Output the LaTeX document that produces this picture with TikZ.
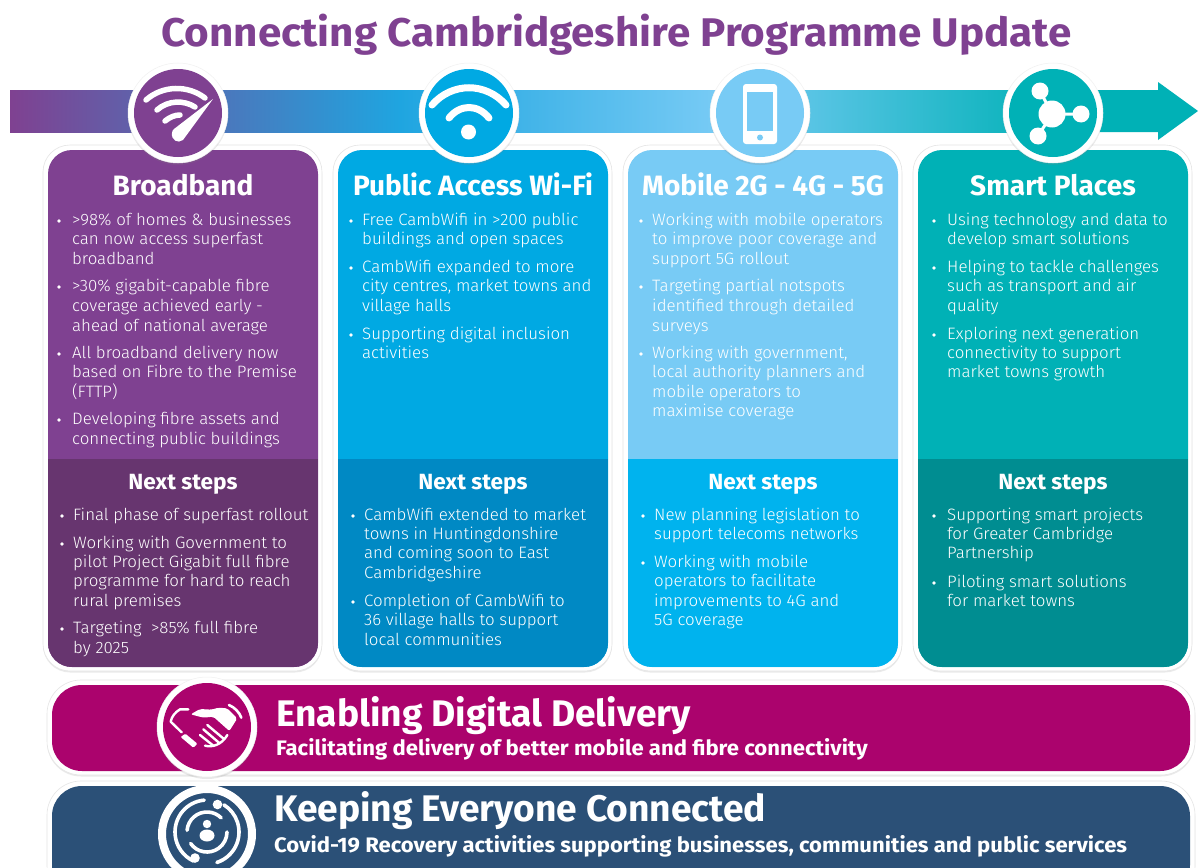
\documentclass[tikz,border=0pt]{standalone}
\usepackage{fontspec}
\setmainfont{Fira Sans}
\newfontfamily\bodyf[FakeStretch=1.022]{Fira Sans Light}
\newfontfamily\titlef[FakeStretch=1.055]{Fira Sans Bold}
\newfontfamily\headf[FakeStretch=1.0]{Fira Sans Bold}
\newfontfamily\nextf[FakeStretch=1.03]{Fira Sans Bold}
\newfontfamily\bigf[FakeStretch=1.005]{Fira Sans Bold}
\newfontfamily\subf[FakeStretch=1.052]{Fira Sans Bold}
\usetikzlibrary{shadows}
\definecolor{cPur}{HTML}{7F4191}\definecolor{cPurD}{HTML}{67356F}
\definecolor{cBlu}{HTML}{00A9E3}\definecolor{cBluD}{HTML}{0089C4}
\definecolor{cLgt}{HTML}{78CBF5}\definecolor{cLgtD}{HTML}{00B3EE}
\definecolor{cTea}{HTML}{00B1B6}\definecolor{cTeaD}{HTML}{008D91}
\definecolor{cMag}{HTML}{AB036D}\definecolor{cNav}{HTML}{2B5077}
\definecolor{cMid}{HTML}{1FA5E0}
\newcount\tcnt
\newcommand{\tl}[3]{\global\advance\tcnt by 1 \node[bodytxt] (t\the\tcnt) at (#1,#2+5.5) {#3};}
\newcommand{\bl}[2]{\fill[white] (#1,#2) circle[radius=1.9];}
\newcommand{\card}[5]{%
  \draw[cardedge,rounded corners=27] (#1-5,145) rectangle (#1+274,671);
  \fill[#2,rounded corners=24] (#1,150) rectangle (#1+270,667);
  \begin{scope}
    \clip[rounded corners=24] (#1,150) rectangle (#1+270,667);
    \fill[#3] (#1,459) rectangle (#1+270,667);
  \end{scope}
  \node[headtxt] (h#5) at (#1+135,195) {#4};
  \node[nexttxt] (n#5) at (#1+135,489) {Next steps};
}
\newcommand{\badge}[3]{\draw[badgeedge] (#1,#2) circle[radius=50]; \fill[#3] (#1,#2) circle[radius=44];}
\tikzset{
  cardedge/.style={fill=white,draw=black!10,line width=.6pt,drop shadow={opacity=.16,shadow xshift=0pt,shadow yshift=-1.5pt}},
  badgeedge/.style={fill=white,draw=black!6,line width=.5pt,drop shadow={opacity=.18,shadow xshift=0pt,shadow yshift=-2pt}},
  bodytxt/.style={anchor=base west,inner sep=0,text=white,font=\bodyf\fontsize{16.5}{19}\selectfont},
  headtxt/.style={anchor=base,inner sep=0,text=white,font=\headf\fontsize{28}{32}\selectfont},
  nexttxt/.style={anchor=base,inner sep=0,text=white,font=\nextf\fontsize{22}{26}\selectfont},
  bartxt/.style={anchor=base west,inner sep=0,text=white,font=\bigf\fontsize{37}{42}\selectfont},
  subtxt/.style={anchor=base west,inner sep=0,text=white,font=\subf\fontsize{21}{25}\selectfont},
  wline/.style={draw=white,line cap=round,line width=#1,fill=none},
  wline/.default=6pt,
}
\begin{document}
\begin{tikzpicture}[x=1pt,y=-1pt]
\useasboundingbox (0,0) rectangle (1198,867);
\clip (0,0) rectangle (1198,867);
\fill[white] (0,0) rectangle (1198,867);
% title
\node[inner sep=0,anchor=base,text=cPur] (title) at (616.5,47) {\titlef\fontsize{40}{46}\selectfont Connecting Cambridgeshire Programme Update};
% arrow band
\shade[left color=cPur,right color=cMid] (10,90) rectangle (400,132);
\shade[left color=cMid,right color=cLgt] (399.5,90) rectangle (720,132);
\shade[left color=cLgt,right color=cTea] (719.5,90) rectangle (1060,132);
\fill[cTea] (1059,90) -- (1158,90) -- (1158,82) -- (1198,111) -- (1158,140) -- (1158,132) -- (1059,132) -- cycle;
% cards
\card{48}{cPur}{cPurD}{Broadband}{bb}
\card{338}{cBlu}{cBluD}{Public Access Wi-Fi}{wf}
\card{628}{cLgt}{cLgtD}{Mobile 2G - 4G - 5G}{mb}
\card{918}{cTea}{cTeaD}{Smart Places}{sp}
% badges
\badge{178}{113}{cPur}
\badge{469}{113}{cBlu}
\badge{760}{113}{cLgt}
\badge{1053}{113}{cTea}
% icon: speed wifi
\draw[wline=5.5pt] (146,100) .. controls (163,85) and (188,85) .. (205,98);
\draw[wline=5.5pt] (157,110) .. controls (168,100) and (184,100) .. (195,107);
\draw[wline=5.5pt] (165,121) .. controls (170,117) and (175,115) .. (180,115);
\fill[white] (213,99) -- (183,140) .. controls (178,144) and (171,140) .. (172,133) .. controls (172,131) and (173,130) .. (174,129) -- cycle;
% icon: wifi
\draw[wline=7pt] (432,105) .. controls (452,82) and (486,82) .. (506,105);
\draw[wline=7pt] (449,118) .. controls (460,104) and (478,104) .. (489,118);
\fill[white] (468.5,132) circle[radius=7.5];
% icon: phone
\fill[white,rounded corners=3] (743,84) rectangle (777,144);
\fill[cLgt] (747,92) rectangle (773,131);
\fill[cLgt] (760,137.5) circle[radius=3];
% icon: hub
\draw[white,line width=3pt] (1040,91) -- (1052,114) -- (1081,114) (1052,114) -- (1038,136);
\fill[white] (1052,114) circle[radius=13.5] (1040,91) circle[radius=8.5] (1081,114) circle[radius=8.5] (1038,136) circle[radius=8.5];
% text: broadband
\bl{59}{221}\bl{59}{287}\bl{59}{354}\bl{59}{420}
\tl{72}{220}{>98\% of homes \& businesses}
\tl{72}{239}{can now access superfast}
\tl{72}{259}{broadband}
\tl{72}{286}{>30\% gigabit-capable fibre}
\tl{72}{306}{coverage achieved early -}
\tl{72}{326}{ahead of national average}
\tl{72}{353}{All broadband delivery now}
\tl{72}{372}{based on Fibre to the Premise}
\tl{72}{392}{(FTTP)}
\tl{72}{419}{Developing fibre assets and}
\tl{72}{439}{connecting public buildings}
\bl{62}{516}\bl{62}{544}\bl{62}{629}
\tl{73}{515}{Final phase of superfast rollout}
\tl{73}{543}{Working with Government to}
\tl{73}{562}{pilot Project Gigabit full fibre}
\tl{73}{581}{programme for hard to reach}
\tl{73}{601}{rural premises}
\tl{73}{628}{Targeting\ \ >85\% full fibre}
\tl{73}{648}{by 2025}
% text: wifi
\bl{351}{221}\bl{351}{268}\bl{351}{335}
\tl{362}{220}{Free CambWifi in >200 public}
\tl{362}{239}{buildings and open spaces}
\tl{362}{267}{CambWifi expanded to more}
\tl{362}{286}{city centres, market towns and}
\tl{362}{306}{village halls}
\tl{362}{334}{Supporting digital inclusion}
\tl{362}{353}{activities}
\bl{353}{516}\bl{353}{602}
\tl{364}{515}{CambWifi extended to market}
\tl{364}{534}{towns in Huntingdonshire}
\tl{364}{553}{and coming soon to East}
\tl{364}{573}{Cambridgeshire}
\tl{364}{601}{Completion of CambWifi to}
\tl{364}{620}{36 village halls to support}
\tl{364}{640}{local communities}
% text: mobile
\bl{641}{221}\bl{641}{287}\bl{641}{354}
\tl{652}{220}{Working with mobile operators}
\tl{652}{239}{to improve poor coverage and}
\tl{652}{259}{support 5G rollout}
\tl{652}{286}{Targeting partial notspots}
\tl{652}{306}{identified through detailed}
\tl{652}{326}{surveys}
\tl{652}{353}{Working with government,}
\tl{652}{372}{local authority planners and}
\tl{652}{392}{mobile operators to}
\tl{652}{411}{maximise coverage}
\bl{643}{516}\bl{643}{563}
\tl{654}{515}{New planning legislation to}
\tl{654}{534}{support telecoms networks}
\tl{654}{562}{Working with mobile}
\tl{654}{581}{operators to facilitate}
\tl{654}{601}{improvements to 4G and}
\tl{654}{620}{5G coverage}
% text: smart
\bl{934}{221}\bl{934}{268}\bl{934}{335}
\tl{947}{220}{Using technology and data to}
\tl{947}{239}{develop smart solutions}
\tl{947}{267}{Helping to tackle challenges}
\tl{947}{286}{such as transport and air}
\tl{947}{306}{quality}
\tl{947}{334}{Exploring next generation}
\tl{947}{353}{connectivity to support}
\tl{947}{372}{market towns growth}
\bl{934}{516}\bl{934}{583}
\tl{947}{515}{Supporting smart projects}
\tl{947}{534}{for Greater Cambridge}
\tl{947}{553}{Partnership}
\tl{947}{582}{Piloting smart solutions}
\tl{947}{601}{for market towns}
% bars
\draw[cardedge,rounded corners=34] (47,680) rectangle (1195,775);
\fill[cMag,rounded corners=30] (52,685) rectangle (1190,771);
\draw[cardedge,rounded corners=34] (47,781) rectangle (1195,900);
\fill[cNav,rounded corners=30] (52,786) rectangle (1190,895);
\badge{207}{727}{cMag}
\draw[white,line width=8pt] (207,834) circle[radius=45];
% icon: handshake
\begin{scope}[shift={(150,675)},x=.3333pt,y=-.3333pt]
\draw[white,line width=2.4pt,line cap=round,line join=round] (115,103) -- (90,103) .. controls (75,112) and (65,125) .. (62,140) -- (95,172);
\draw[white,line width=2.6pt,line cap=round] (237,90) .. controls (255,98) and (268,112) .. (274,128);
\fill[white,rounded corners=2pt] (122,118) -- (150,102) -- (185,104) -- (205,98) -- (232,100) -- (262,130) -- (238,168) -- (190,125) -- (160,128) -- cycle;
\fill[white,rounded corners=1pt] (92,186) -- (106,176) -- (142,206) -- (130,218) -- cycle;
\draw[white,line width=2.4pt,line cap=round] (172,150) -- (222,192) (160,163) -- (208,204) (150,180) -- (190,212);
\draw[white,line width=2.4pt,line cap=round] (165,212) .. controls (185,218) and (215,210) .. (232,180);
\end{scope}
% icon: people
\begin{scope}[shift={(207,832)},x=1pt,y=1pt]
\draw[wline=3.6pt] (95:32) arc[start angle=95,end angle=245,radius=32];
\draw[wline=3.6pt] (-72:32) arc[start angle=-72,end angle=58,radius=32];
\draw[wline=3.6pt] (175:20) arc[start angle=175,end angle=45,radius=20];
\draw[wline=3.6pt] (215:20) arc[start angle=215,end angle=360,radius=20];
\fill[white] (10.5,27.5) circle[radius=4.8] (-12,-26) circle[radius=4.8];
\fill[white] (0,8) circle[radius=4.2] (0,-3.5) ellipse[x radius=7.5,y radius=6];
\end{scope}
% bar text
\node[bartxt] (e1) at (276,726) {Enabling Digital Delivery};
\node[subtxt] (e2) at (276,755) {Facilitating delivery of better mobile and fibre connectivity};
\node[bartxt] (k1) at (274,821) {Keeping Everyone Connected};
\node[subtxt] (k2) at (274,852) {Covid-19 Recovery activities supporting businesses, communities and public services};
\end{tikzpicture}
\end{document}
